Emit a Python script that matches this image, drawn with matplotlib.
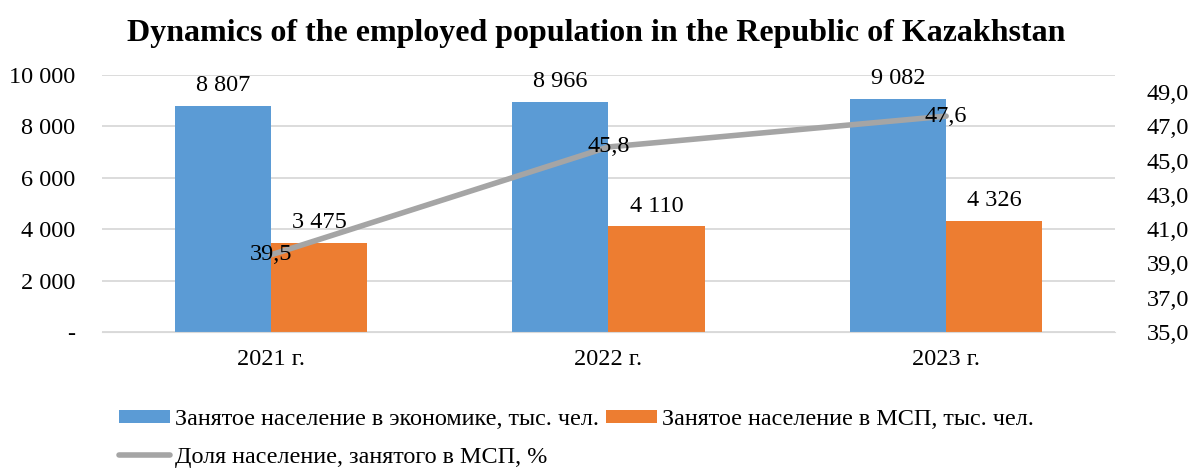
import matplotlib.pyplot as plt
import numpy as np
from matplotlib.ticker import FuncFormatter

plt.rcParams['font.family'] = ['Liberation Serif', 'DejaVu Serif']

years = ['2021 г.', '2022 г.', '2023 г.']
employed_total = [8807, 8966, 9082]
employed_sme = [3475, 4110, 4326]
sme_share = [39.5, 45.8, 47.6]

lbl_total = 'Занятое население в экономике, тыс. чел.'
lbl_sme = 'Занятое население в МСП, тыс. чел.'
lbl_share = 'Доля население, занятого в МСП, %'


def fmt_thousands(v, pos=None):
    if v == 0:
        return '-'
    return f'{int(round(v)):,}'.replace(',', ' ')


fig = plt.figure(figsize=(11.93, 4.68), dpi=100)
ax = fig.add_axes([0.0855, 0.2906, 0.8491, 0.5491])
ax2 = ax.twinx()

x = np.arange(len(years))
w = 0.285
b1 = ax.bar(x - w / 2, employed_total, w, color='#5b9bd5', label=lbl_total)
b2 = ax.bar(x + w / 2, employed_sme, w, color='#ed7d31', label=lbl_sme)
ln, = ax2.plot(x, sme_share, color='#a5a5a5', lw=4, solid_capstyle='round', label=lbl_share)

ax.set_xlim(-0.5, 2.5)
ax.set_ylim(0, 10000)
ax.set_yticks(range(0, 10001, 2000))
ax.yaxis.set_major_formatter(FuncFormatter(fmt_thousands))
ax.grid(axis='y', color='#d9d9d9', lw=1.3)
ax.set_axisbelow(True)
ax.set_xticks(x)
ax.set_xticklabels(years)

ax2.set_ylim(35, 50)
ax2.set_yticks(np.arange(35, 50, 2))
ax2.yaxis.set_major_formatter(FuncFormatter(lambda v, p: f'{v:.1f}'.replace('.', ',')))

fs = 17.5
for a in (ax, ax2):
    for s in a.spines.values():
        s.set_visible(False)
    a.tick_params(length=0, labelsize=fs)
ax.spines['bottom'].set_visible(True)
ax.spines['bottom'].set_color('#d9d9d9')
ax.tick_params(axis='y', pad=19)
ax.tick_params(axis='x', pad=12)
ax2.tick_params(axis='y', pad=23)

for bars in (b1, b2):
    for r in bars:
        ax.annotate(fmt_thousands(r.get_height()), (r.get_x() + r.get_width() / 2, r.get_height()),
                    xytext=(0, 7), textcoords='offset points', ha='center', va='bottom', fontsize=fs)
for xi, v in zip(x, sme_share):
    ax2.text(xi, v, f'{v:.1f}'.replace('.', ','), ha='center', va='center', fontsize=fs)

fig.suptitle('Dynamics of the employed population in the Republic of Kazakhstan',
             fontsize=23, fontweight='bold', y=0.96)

fig.legend([b1, ln, b2], [lbl_total, lbl_share, lbl_sme], ncol=2, frameon=False,
           loc='lower left', bbox_to_anchor=(0.1, 0.0), fontsize=17.4,
           borderpad=0, borderaxespad=0, handlelength=2.1, handleheight=0.5,
           handletextpad=0.2, columnspacing=0.3, labelspacing=0.7)

fig.savefig('out.png', dpi=100)
